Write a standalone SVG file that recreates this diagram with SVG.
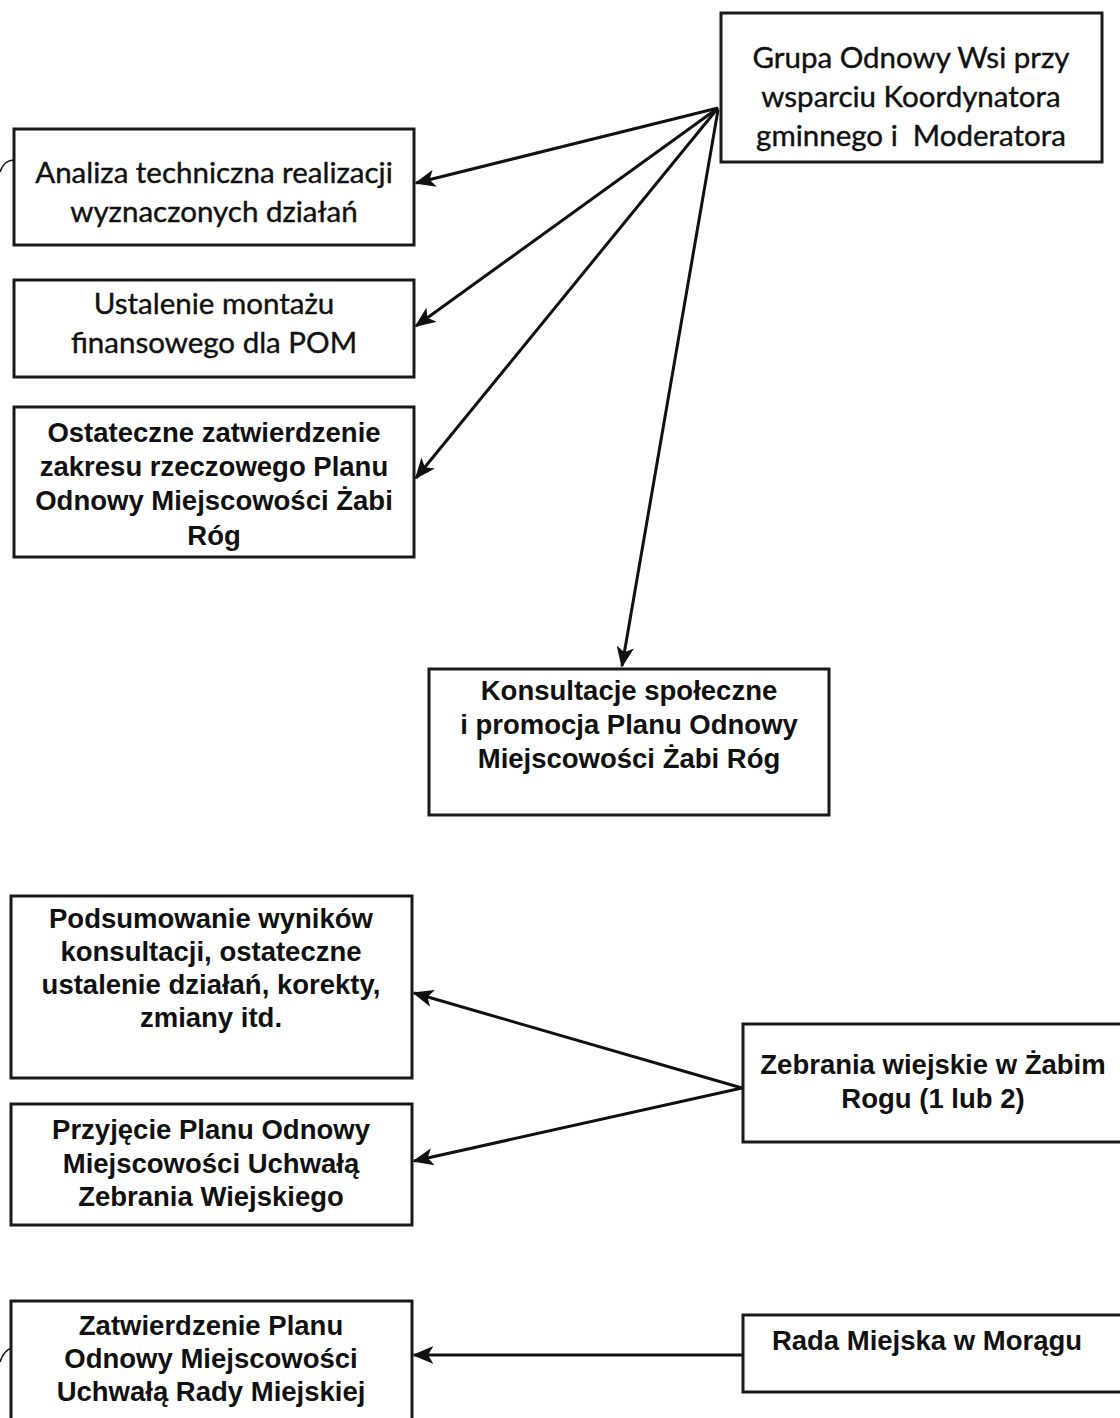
<svg xmlns="http://www.w3.org/2000/svg" width="1120" height="1418" viewBox="0 0 1120 1418">
<defs>
<marker id="ah" viewBox="0 0 12 10" refX="11" refY="5" markerWidth="7" markerHeight="6" orient="auto" markerUnits="strokeWidth">
<path d="M0,0 L12,5 L0,10 L3,5 Z" fill="#111"/>
</marker>
<style>
.box{fill:#fff;stroke:#1a1a1a;stroke-width:3}
.c{font-family:Lato,"Open Sans","Liberation Sans",sans-serif;font-size:29.5px;fill:#111;text-anchor:middle;stroke:#111;stroke-width:0.4;white-space:pre}
.a{font-family:"Liberation Sans",Arial,sans-serif;font-size:27.5px;font-weight:bold;fill:#111;text-anchor:middle}
.ln{stroke:#111;stroke-width:3;fill:none;marker-end:url(#ah)}
.ed{stroke:#111;stroke-width:1.5;fill:none}
</style>
</defs>
<rect width="1120" height="1418" fill="#fff"/>
<g id="connectors">
<line class="ln" x1="718" y1="108" x2="416" y2="183"/>
<line class="ln" x1="718" y1="108" x2="416" y2="326"/>
<line class="ln" x1="718" y1="108" x2="416" y2="478"/>
<line class="ln" x1="718" y1="110" x2="622" y2="666"/>
<line class="ln" x1="742" y1="1088" x2="414" y2="993"/>
<line class="ln" x1="742" y1="1088" x2="414" y2="1161"/>
<line class="ln" x1="742" y1="1355" x2="414" y2="1355"/>
<path class="ed" d="M0,172 Q4,160 14,160"/>
<path class="ed" d="M0,1362 Q4,1350 12,1348"/>
</g>
<g id="n-grupa">
<rect class="box" x="721" y="13" width="381" height="149"/>
<text class="c" x="911" y="68">Grupa Odnowy Wsi przy</text>
<text class="c" x="911" y="107">wsparciu Koordynatora</text>
<text class="c" x="911" y="146" xml:space="preserve">gminnego i  Moderatora</text>
</g>
<g id="n-analiza">
<rect class="box" x="14" y="129" width="400" height="116"/>
<text class="c" x="214" y="183">Analiza techniczna realizacji</text>
<text class="c" x="214" y="222">wyznaczonych działań</text>
</g>
<g id="n-ustalenie">
<rect class="box" x="14" y="280" width="400" height="97"/>
<text class="c" x="214" y="314">Ustalenie montażu</text>
<text class="c" x="214" y="353">finansowego dla POM</text>
</g>
<g id="n-ostateczne">
<rect class="box" x="14" y="407" width="400" height="150"/>
<text class="a" x="214" y="442">Ostateczne zatwierdzenie</text>
<text class="a" x="214" y="476">zakresu rzeczowego Planu</text>
<text class="a" x="214" y="510">Odnowy Miejscowości Żabi</text>
<text class="a" x="214" y="545">Róg</text>
</g>
<g id="n-konsultacje">
<rect class="box" x="429" y="669" width="400" height="146"/>
<text class="a" x="629" y="700">Konsultacje społeczne</text>
<text class="a" x="629" y="734">i promocja Planu Odnowy</text>
<text class="a" x="629" y="768">Miejscowości Żabi Róg</text>
</g>
<g id="n-podsumowanie">
<rect class="box" x="11" y="896" width="401" height="182"/>
<text class="a" x="211" y="928">Podsumowanie wyników</text>
<text class="a" x="211" y="961">konsultacji, ostateczne</text>
<text class="a" x="211" y="994">ustalenie działań, korekty,</text>
<text class="a" x="211" y="1027">zmiany itd.</text>
</g>
<g id="n-przyjecie">
<rect class="box" x="11" y="1104" width="401" height="121"/>
<text class="a" x="211" y="1139">Przyjęcie Planu Odnowy</text>
<text class="a" x="211" y="1173">Miejscowości Uchwałą</text>
<text class="a" x="211" y="1206">Zebrania Wiejskiego</text>
</g>
<g id="n-zebrania">
<rect class="box" x="743" y="1024" width="390" height="118"/>
<text class="a" x="933" y="1074">Zebrania wiejskie w Żabim</text>
<text class="a" x="933" y="1108">Rogu (1 lub 2)</text>
</g>
<g id="n-zatwierdzenie">
<rect class="box" x="11" y="1301" width="401" height="130"/>
<text class="a" x="211" y="1335">Zatwierdzenie Planu</text>
<text class="a" x="211" y="1368">Odnowy Miejscowości</text>
<text class="a" x="211" y="1401">Uchwałą Rady Miejskiej</text>
</g>
<g id="n-rada">
<rect class="box" x="743" y="1315" width="390" height="77"/>
<text class="a" x="927" y="1350">Rada Miejska w Morągu</text>
</g>
</svg>
